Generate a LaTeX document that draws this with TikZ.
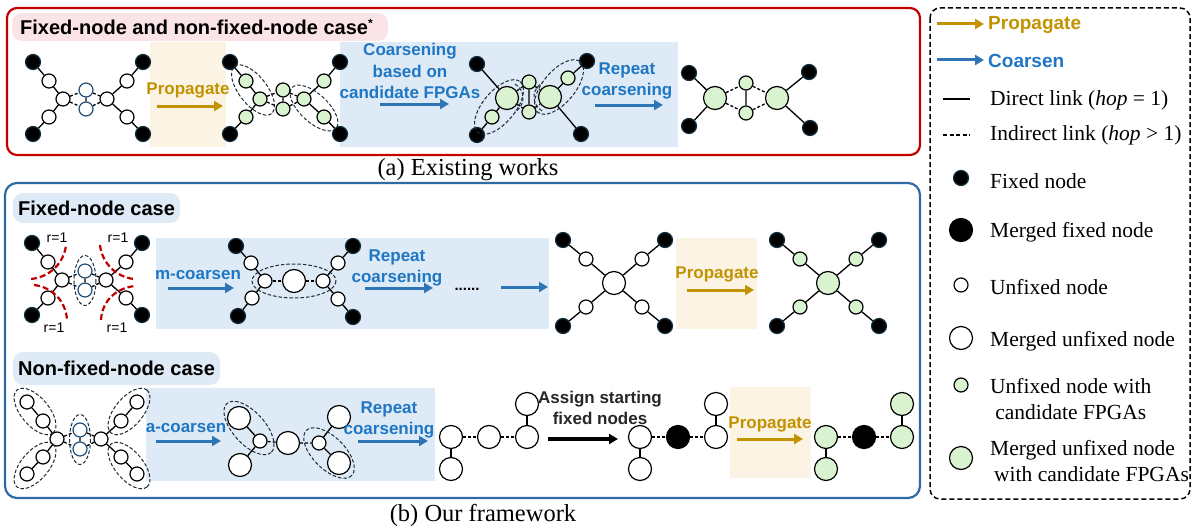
\documentclass[tikz,border=0pt]{standalone}
\usepackage{fontspec}
\setmainfont{Liberation Serif}
\setsansfont{Liberation Sans}
\usetikzlibrary{arrows.meta}
\definecolor{redbox}{HTML}{C00000}
\definecolor{bluebox}{HTML}{2E6AA3}
\definecolor{pinkpill}{HTML}{FBE4E7}
\definecolor{bluepill}{HTML}{DEEAF6}
\definecolor{blueband}{HTML}{DEEAF6}
\definecolor{orband}{HTML}{FBF3E4}
\definecolor{gold}{HTML}{C29200}
\definecolor{btext}{HTML}{1F77C4}
\definecolor{barrow}{HTML}{2E75B6}
\definecolor{grn}{HTML}{D9F2D0}
\definecolor{fxedge}{HTML}{14303F}
\definecolor{midb}{HTML}{1F4E79}
\definecolor{grpc}{HTML}{1E2A36}

\tikzset{
  nd/.style={circle, inner sep=0pt, line width=1.2pt, draw=black},
  fx/.style={nd, fill=black, draw=fxedge, minimum size=15pt},
  ux/.style={nd, fill=white, minimum size=14pt},
  um/.style={nd, fill=white, draw=midb, minimum size=14pt},
  gx/.style={nd, fill=grn, minimum size=14pt},
  mfx/.style={nd, fill=black, minimum size=23pt},
  mux/.style={nd, fill=white, minimum size=23pt},
  mgx/.style={nd, fill=grn, minimum size=23pt},
  ln/.style={line width=1.3pt},
  dln/.style={line width=1.3pt, dash pattern=on 3pt off 2pt},
  grp/.style={draw=grpc, line width=1pt, dash pattern=on 3.5pt off 2pt},
  rarc/.style={draw=redbox, line width=2.2pt, dash pattern=on 6pt off 3pt},
  parr/.style={draw=gold, line width=3pt, -{Triangle[length=9pt,width=10pt]}},
  carr/.style={draw=barrow, line width=3pt, -{Triangle[length=9pt,width=10pt]}},
  karr/.style={draw=black, line width=3.2pt, -{Triangle[length=9pt,width=10pt]}},
  blbl/.style={font=\fontsize{17}{21.5}\selectfont\sffamily\bfseries, text=btext, align=center, inner sep=0pt},
  plbl/.style={font=\fontsize{17}{21.5}\selectfont\sffamily\bfseries, text=gold, align=center, inner sep=0pt},
  klbl/.style={font=\fontsize{17}{21.5}\selectfont\sffamily\bfseries, text=black!85, align=center, inner sep=0pt},
  ttl/.style={font=\fontsize{20}{24}\selectfont\sffamily\bfseries, inner sep=0pt, anchor=west},
  rlbl/.style={font=\fontsize{14}{16}\selectfont\sffamily, inner sep=0pt},
  captxt/.style={font=\fontsize{24.5}{27}\selectfont, inner sep=0pt},
  lgt/.style={font=\fontsize{21.5}{26}\selectfont, inner sep=0pt, anchor=west, align=left},
  lgb/.style={font=\fontsize{19}{22}\selectfont\sffamily\bfseries, inner sep=0pt, anchor=west},
}

\newcommand{\mkXgraph}[5]{%
  \begin{scope}[shift={(#5)}]
    \node[#2] (#1F1) at (33,62) {};
    \node[#2] (#1F2) at (143,62) {};
    \node[#2] (#1F3) at (33,134) {};
    \node[#2] (#1F4) at (143,134) {};
    \node[#3] (#1U1) at (49,81) {};
    \node[#3] (#1U2) at (127,81) {};
    \node[#3] (#1U3) at (49,117) {};
    \node[#3] (#1U4) at (127,117) {};
    \node[#3] (#1C1) at (63,99) {};
    \node[#3] (#1C2) at (107,99) {};
    \node[#4] (#1M1) at (86,90) {};
    \node[#4] (#1M2) at (86,109) {};
  \end{scope}
  \draw[ln] (#1F1)--(#1U1)--(#1C1)--(#1U3)--(#1F3) (#1F2)--(#1U2)--(#1C2)--(#1U4)--(#1F4) (#1M1)--(#1M2);
  \draw[dln] (#1C1)--(#1M1)--(#1C2) (#1C1)--(#1M2)--(#1C2);
}

\newcommand{\mkStarG}[5]{%
  \begin{scope}[shift={(#5)}]
    \node[#4] (#1B) at (0,0) {};
    \node[#3] (#1U1) at (-28,-24) {};
    \node[#3] (#1U2) at (28,-24) {};
    \node[#3] (#1U3) at (-28,24) {};
    \node[#3] (#1U4) at (28,24) {};
    \node[#2] (#1F1) at (-51,-43) {};
    \node[#2] (#1F2) at (51,-43) {};
    \node[#2] (#1F3) at (-51,43) {};
    \node[#2] (#1F4) at (51,43) {};
  \end{scope}
  \draw[ln] (#1F1)--(#1U1)--(#1B)--(#1U4)--(#1F4) (#1F2)--(#1U2)--(#1B)--(#1U3)--(#1F3);
}

\newcommand{\mkChainG}[4]{%
  \begin{scope}[shift={(#4)}]
    \node[#2] (#1N1) at (0,0) {};
    \node[#2] (#1N2) at (0,32) {};
    \node[#3] (#1N3) at (38,0) {};
    \node[#2] (#1N4) at (76,0) {};
    \node[#2] (#1N5) at (76,-33) {};
  \end{scope}
  \draw[ln] (#1N1)--(#1N2) (#1N4)--(#1N5);
  \draw[dln] (#1N1)--(#1N3)--(#1N4);
}

\begin{document}
\begin{tikzpicture}[x=1pt,y=-1pt]
\useasboundingbox (0,0) rectangle (1193,527);

% ---------- frames ----------
\draw[redbox, line width=2.2pt, rounded corners=10pt] (7,8) rectangle (920,155);
\draw[bluebox, line width=2.2pt, rounded corners=12pt] (5,183) rectangle (920,498);
\draw[black, line width=1.5pt, dash pattern=on 5pt off 3pt, rounded corners=10pt] (930,8) rectangle (1190,499);

% ---------- pills and bands ----------
\fill[pinkpill, rounded corners=10pt] (12,13) rectangle (388,41);
\fill[bluepill, rounded corners=10pt] (13,193) rectangle (180,223);
\fill[bluepill, rounded corners=10pt] (13,352) rectangle (220,385);

\fill[orband] (150,42) rectangle (226,147);
\fill[blueband] (340,42) rectangle (678,147);
\fill[blueband] (156,238) rectangle (549,329);
\fill[orband] (676,238) rectangle (757,329);
\fill[blueband] (146,388) rectangle (435,481);
\fill[orband] (730,387) rectangle (811,478);

% ---------- titles and captions ----------
\node[ttl] (ttop) at (20,27) {Fixed-node and non-fixed-node case\raisebox{7pt}{\fontsize{12}{12}\selectfont *}};
\node[ttl] (tfix) at (18,208) {Fixed-node case};
\node[ttl] (tnon) at (18,368) {Non-fixed-node case};
\node[captxt] (capa) at (468,170) {(a) Existing works};
\node[captxt] (capb) at (483,515) {(b) Our framework};

% ================= (a) existing works =================
\mkXgraph{ga}{fx}{ux}{um}{0,0}
\node[plbl] (tpa) at (188,90) {Propagate};
\coordinate (pa1s) at (157,106); \coordinate (pa1e) at (223,106);
\draw[parr] (pa1s)--(pa1e);

\mkXgraph{gb}{fx}{gx}{gx}{197,0}
\draw[grp, rotate around={-52:(253,90)}] (253,90) ellipse[x radius=30, y radius=14];
\draw[grp, rotate around={-43:(314,108)}] (314,108) ellipse[x radius=30, y radius=14];

\node[blbl] (tcb) at (410,71) {Coarsening\\based on\\candidate FPGAs};
\coordinate (ca1s) at (380,104); \coordinate (ca1e) at (449,104);
\draw[carr] (ca1s)--(ca1e);

% graph 3
\node[fx] (gcF1) at (477,64) {};
\node[fx] (gcF2) at (587,61) {};
\node[fx] (gcF3) at (477,135) {};
\node[fx] (gcF4) at (581,134) {};
\node[mgx] (gcBL) at (507,98) {};
\node[mgx] (gcBR) at (550,97) {};
\node[gx] (gcS1) at (492,117) {};
\node[gx] (gcS2) at (568,78) {};
\node[gx] (gcMT) at (529,82) {};
\node[gx] (gcMB) at (529,112) {};
\draw[ln] (gcF1)--(gcBL) (gcF3)--(gcS1)--(gcBL) (gcMT)--(gcMB) (gcBR)--(gcS2)--(gcF2) (gcBR)--(gcF4);
\draw[dln] (gcBL)--(gcMT)--(gcBR) (gcBL)--(gcMB)--(gcBR);
\draw[grp, rotate around={50:(499,107)}] (499,107) ellipse[x radius=33, y radius=16];
\draw[grp, rotate around={50:(559,87)}] (559,87) ellipse[x radius=33, y radius=16];
\draw[grp] (gcBL.center) ++(-60:16) arc[start angle=-60, end angle=60, radius=16];
\draw[grp] (gcBR.center) ++(120:16) arc[start angle=120, end angle=240, radius=16];

\node[blbl] (trc1) at (627,81) {Repeat\\coarsening};
\coordinate (ca2s) at (595,105); \coordinate (ca2e) at (663,105);
\draw[carr] (ca2s)--(ca2e);

% graph 4
\node[mgx] (gdBL) at (715,98) {};
\node[mgx] (gdBR) at (777,98) {};
\node[gx] (gdST) at (746,83) {};
\node[gx] (gdSB) at (746,113) {};
\node[fx] (gdF1) at (689,73) {};
\node[fx] (gdF3) at (689,126) {};
\node[fx] (gdF2) at (809,72) {};
\node[fx] (gdF4) at (810,128) {};
\draw[ln] (gdF1)--(gdBL)--(gdF3) (gdF2)--(gdBR)--(gdF4) (gdST)--(gdSB);
\draw[dln] (gdBL)--(gdST)--(gdBR) (gdBL)--(gdSB)--(gdBR);

% ================= (b) fixed-node case =================
\mkXgraph{fa}{fx}{ux}{um}{-1,181}
\draw[grp] (85,280.5) ellipse[x radius=11, y radius=25];
\draw[rarc] (31,279) .. controls (50,277) and (64,263) .. (66,245);
\draw[rarc] (34,285) .. controls (52,287) and (66,301) .. (67,320);
\draw[rarc] (100,245) .. controls (102,263) and (116,277) .. (134,279);
\draw[rarc] (101,320) .. controls (102,301) and (116,288) .. (135,286);
\node[rlbl] (r1) at (57,238) {r=1};
\node[rlbl] (r2) at (118,238) {r=1};
\node[rlbl] (r3) at (54,328) {r=1};
\node[rlbl] (r4) at (117,328) {r=1};

\node[blbl] (tmc) at (198,275) {m-coarsen};
\coordinate (cb1s) at (168,288); \coordinate (cb1e) at (234,288);
\draw[carr] (cb1s)--(cb1e);

% graph FB
\node[fx] (fbF1) at (236,246) {};
\node[fx] (fbF2) at (353,246) {};
\node[fx] (fbF3) at (238,316) {};
\node[fx] (fbF4) at (353,317) {};
\node[ux] (fbU1) at (251,263) {};
\node[ux] (fbU2) at (338,263) {};
\node[ux] (fbU3) at (252,298) {};
\node[ux] (fbU4) at (338,299) {};
\node[ux] (fbC1) at (265,281) {};
\node[ux] (fbC2) at (323,281) {};
\node[mux] (fbB) at (294,281) {};
\draw[ln] (fbF1)--(fbU1)--(fbC1)--(fbU3)--(fbF3) (fbF2)--(fbU2)--(fbC2)--(fbU4)--(fbF4);
\draw[dln] (fbC1)--(fbB)--(fbC2);
\draw[grp] (294,281) ellipse[x radius=42, y radius=17];

\node[blbl] (trc2) at (397,268) {Repeat\\coarsening};
\coordinate (cb2s) at (365,288); \coordinate (cb2e) at (433,288);
\draw[carr] (cb2s)--(cb2e);
\node[font=\fontsize{15}{16}\selectfont\sffamily\bfseries, inner sep=0pt, anchor=base] (dots) at (467,290) {......};
\coordinate (cb3s) at (501,287); \coordinate (cb3e) at (548,287);
\draw[carr] (cb3s)--(cb3e);

\mkStarG{fc}{fx}{ux}{mux}{614,283}
\node[plbl] (tpb) at (717,274) {Propagate};
\coordinate (pb1s) at (687,290); \coordinate (pb1e) at (754,290);
\draw[parr] (pb1s)--(pb1e);
\mkStarG{fd}{fx}{gx}{mgx}{828,283}

% ================= (b) non-fixed-node case =================
\mkXgraph{na}{ux}{ux}{um}{-6,340}
\draw[grp, rotate around={-50:(35,411.5)}] (35,411.5) ellipse[x radius=28, y radius=14];
\draw[grp, rotate around={50:(35,465.5)}] (35,465.5) ellipse[x radius=28, y radius=14];
\draw[grp, rotate around={50:(129,411.5)}] (129,411.5) ellipse[x radius=28, y radius=14];
\draw[grp, rotate around={-50:(129,465.5)}] (129,465.5) ellipse[x radius=28, y radius=14];
\draw[grp] (80,439.5) ellipse[x radius=10.5, y radius=25];

\node[blbl] (tac) at (186,428) {a-coarsen};
\coordinate (cn1s) at (156,441); \coordinate (cn1e) at (221,441);
\draw[carr] (cn1s)--(cn1e);

% graph NB
\node[mux] (nbB1) at (239,418) {};
\node[ux] (nbS1) at (260,441) {};
\node[mux] (nbB2) at (240,465) {};
\node[mux] (nbB3) at (288,443) {};
\node[ux] (nbS2) at (319,443) {};
\node[mux] (nbB4) at (339,417) {};
\node[mux] (nbB5) at (339,463) {};
\draw[ln] (nbB1)--(nbS1)--(nbB2) (nbB4)--(nbS2)--(nbB5);
\draw[dln] (nbS1)--(nbB3)--(nbS2);
\draw[grp, rotate around={-48:(249,428)}] (249,428) ellipse[x radius=33, y radius=16];
\draw[grp, rotate around={-45:(329,453)}] (329,453) ellipse[x radius=32, y radius=16];

\node[blbl] (trc3) at (389,420) {Repeat\\coarsening};
\coordinate (cn2s) at (358,441); \coordinate (cn2e) at (428,441);
\draw[carr] (cn2s)--(cn2e);

\mkChainG{nc}{mux}{mux}{451,437}
\node[klbl] (tas) at (600,408) {Assign starting\\fixed nodes};
\coordinate (kas) at (548,439); \coordinate (kae) at (618,439);
\draw[karr] (kas)--(kae);
\mkChainG{nd}{mux}{mfx}{640,437}
\node[plbl] (tpc) at (770,424) {Propagate};
\coordinate (pc1s) at (737,439); \coordinate (pc1e) at (803,439);
\draw[parr] (pc1s)--(pc1e);
\mkChainG{ne}{mgx}{mfx}{826,437}

% ================= legend =================
\coordinate (lg1s) at (937,24); \coordinate (lg1e) at (984,24);
\draw[parr] (lg1s)--(lg1e);
\node[lgb, text=gold] (lgt1) at (988,25) {Propagate};
\coordinate (lg2s) at (937,60); \coordinate (lg2e) at (984,60);
\draw[carr] (lg2s)--(lg2e);
\node[lgb, text=btext] (lgt2) at (988,61) {Coarsen};
\coordinate (lg3s) at (943,99); \coordinate (lg3e) at (970,99);
\draw[ln, line width=1.5pt] (lg3s)--(lg3e);
\node[lgt] (lgt3) at (990,100) {Direct link (\textit{hop} = 1)};
\coordinate (lg4s) at (943,135); \coordinate (lg4e) at (970,135);
\draw[line width=1.5pt, dash pattern=on 4pt off 2.5pt] (lg4s)--(lg4e);
\node[lgt] (lgt4) at (990,135) {Indirect link (\textit{hop} > 1)};
\node[fx] (lgn5) at (961,178) {};
\node[lgt] (lgt5) at (990,181) {Fixed node};
\node[mfx] (lgn6) at (961,230) {};
\node[lgt] (lgt6) at (990,232) {Merged fixed node};
\node[ux] (lgn7) at (961,285) {};
\node[lgt] (lgt7) at (990,287) {Unfixed node};
\node[mux] (lgn8) at (961,338) {};
\node[lgt] (lgt8) at (990,341) {Merged unfixed node};
\node[gx] (lgn9) at (961,385) {};
\node[lgt, align=center] (lgt9) at (990,399) {Unfixed node with\\candidate FPGAs};
\node[mgx] (lgn10) at (961,458) {};
\node[lgt] (lgt10) at (990,461) {Merged unfixed node\\\hspace*{4pt}with candidate FPGAs};
\end{tikzpicture}
\end{document}
